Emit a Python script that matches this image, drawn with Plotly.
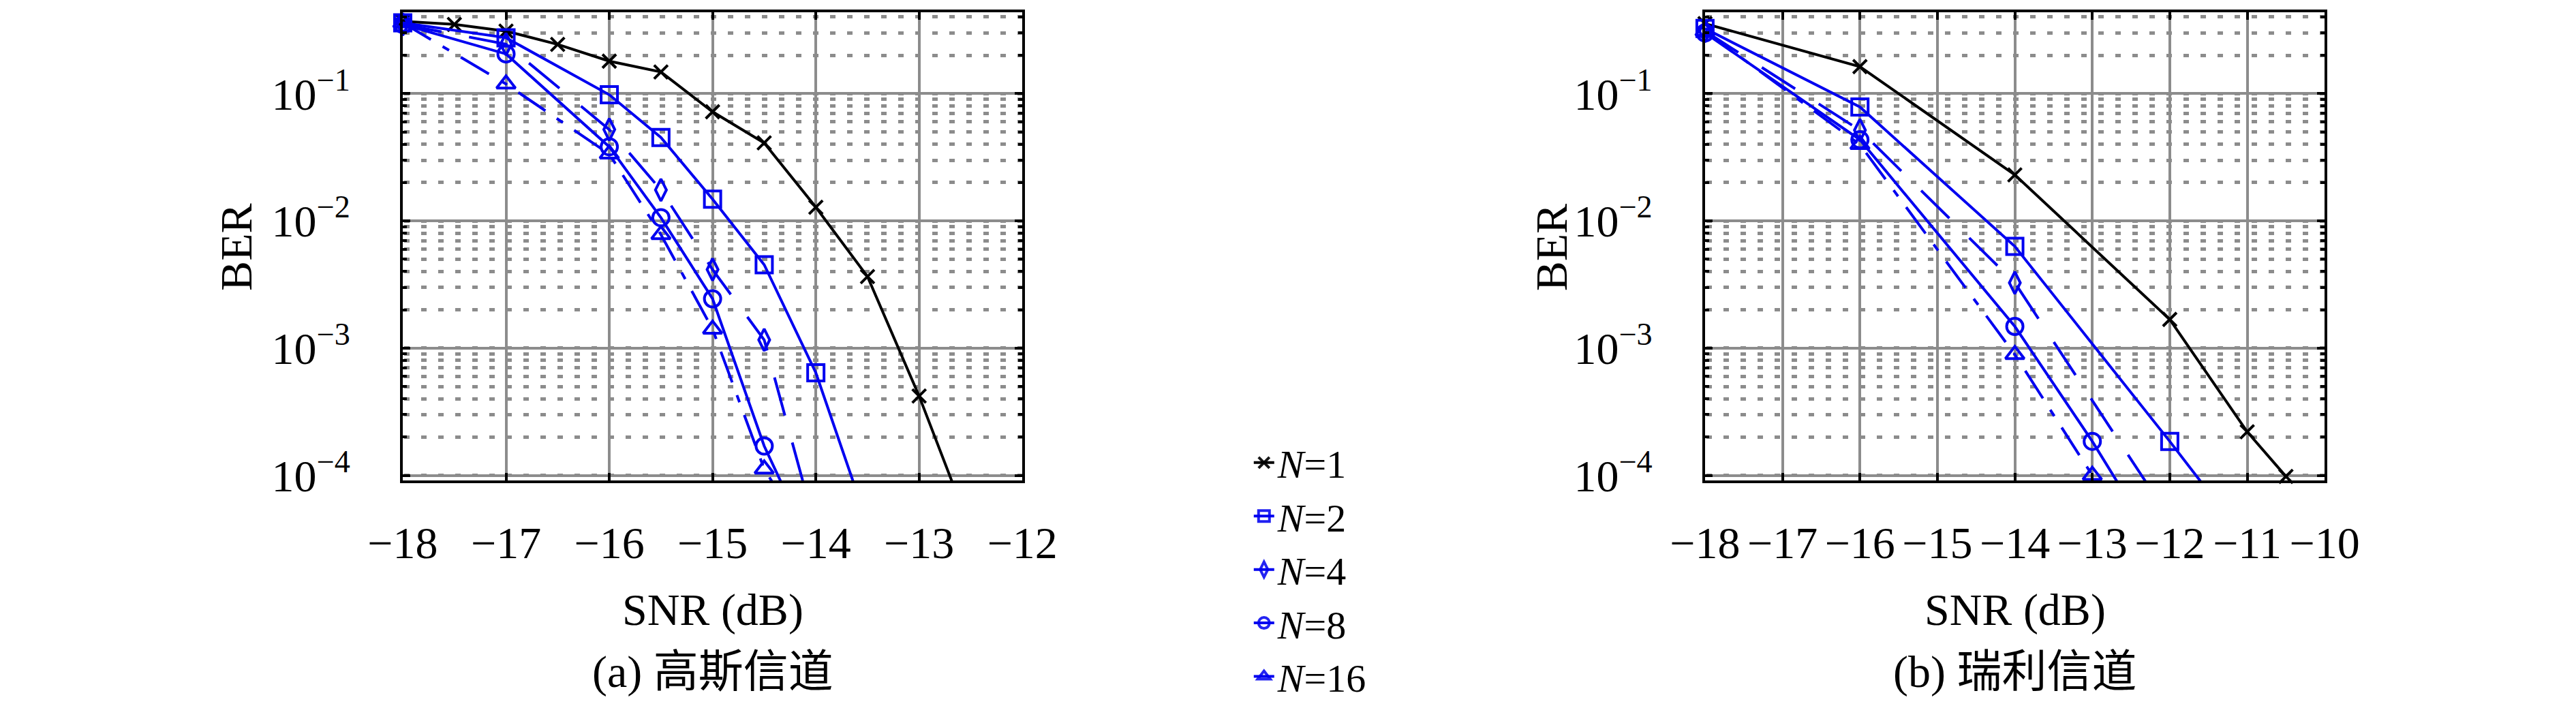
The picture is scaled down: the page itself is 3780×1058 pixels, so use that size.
"""BER vs SNR, Gaussian (a) and Rayleigh (b) channels."""
import plotly.graph_objects as go

# ── (a) Gaussian channel ─────────────────────────────────────────────
SNR_G_N1 = [-18, -17.5, -17, -16.5, -16, -15.5, -15, -14.5, -14, -13.5, -13, -12.5]
BER_G_N1 = [0.37, 0.35, 0.31, 0.244, 0.18, 0.148, 0.072, 0.041, 0.0128, 0.00365, 4.2e-4, 3.7e-5]
SNR_G_N2 = [-18, -17, -16, -15.5, -15, -14.5, -14, -13.5]
BER_G_N2 = [0.36, 0.275, 0.098, 0.0452, 0.0148, 0.00452, 6.4e-4, 4.2e-5]
SNR_G_N4 = [-18, -17, -16, -15.5, -15, -14.5, -14]
BER_G_N4 = [0.35, 0.245, 0.0522, 0.0175, 0.00414, 0.00116, 3.8e-5]
SNR_G_N8 = [-18, -17, -16, -15.5, -15, -14.5, -14]
BER_G_N8 = [0.35, 0.205, 0.0382, 0.0106, 0.00244, 1.7e-4, 2.3e-5]
SNR_G_N16 = [-18, -17, -16, -15.5, -15, -14.5, -14]
BER_G_N16 = [0.36, 0.119, 0.0335, 0.0078, 0.00141, 1.12e-4, 2.5e-5]

# ── (b) Rayleigh channel ─────────────────────────────────────────────
SNR_R_N1 = [-18, -16, -14, -12, -11, -10.5]
BER_R_N1 = [0.355, 0.163, 0.023, 1.68e-3, 2.2e-4, 9.8e-5]
SNR_R_N2 = [-18, -16, -14, -12, -11]
BER_R_N2 = [0.325, 0.0785, 0.0063, 1.85e-4, 3.0e-5]
SNR_R_N4 = [-18, -16, -14, -12]
BER_R_N4 = [0.31, 0.0516, 0.00326, 4.6e-5]
SNR_R_N8 = [-18, -16, -14, -13, -12]
BER_R_N8 = [0.30, 0.0434, 0.00148, 1.85e-4, 1.9e-5]
SNR_R_N16 = [-18, -16, -14, -13]
BER_R_N16 = [0.31, 0.0398, 8.9e-4, 1.0e-4]

LABELS = ["<i>N</i>=1", "<i>N</i>=2", "<i>N</i>=4", "<i>N</i>=8", "<i>N</i>=16"]
X_TICKS_G = [-18, -17, -16, -15, -14, -13, -12]
X_TICKS_R = [-18, -17, -16, -15, -14, -13, -12, -11, -10]
Y_TICKS = [1e-4, 1e-3, 1e-2, 1e-1]
Y_TICKTEXT = ["10<sup>−4</sup>", "10<sup>−3</sup>", "10<sup>−2</sup>", "10<sup>−1</sup>"]

# ── style ────────────────────────────────────────────────────────────
W, H = 3780, 1058
FONT = "'Liberation Serif', 'Noto Sans CJK SC', serif"
BLUE = "#0000f0"
GRID = "#8c8c8c"
MINOR_DASH = "0px,2px,8px,15px"
Y_RANGE = [-4.042, -0.359]
STYLES = [
    dict(color="black", symbol="x-thin-open", size=20, dash="solid"),
    dict(color=BLUE, symbol="square-open", size=24, dash="solid"),
    dict(color=BLUE, symbol="diamond-tall-open", size=23, dash="58px,41px"),
    dict(color=BLUE, symbol="circle-open", size=24, dash="solid"),
    dict(color=BLUE, symbol="triangle-up-open", size=24, dash="48px,20px,11px,20px"),
]


def _trace(x, y, st, name, xa, ya, legend):
    # hide markers of points that fall below the visible range (line still heads there)
    vis = [1 if v >= 10 ** Y_RANGE[0] else 0 for v in y]
    return go.Scatter(
        x=x, y=y, name=name, mode="lines+markers",
        xaxis=xa, yaxis=ya, showlegend=legend, cliponaxis=False,
        line=dict(color=st["color"], width=4, dash=st["dash"]),
        marker=dict(symbol=st["symbol"], size=st["size"], color=st["color"],
                    opacity=vis, line=dict(color=st["color"], width=4)),
    )


def _minus(v):
    return f"−{abs(v)}" if v < 0 else str(v)


def _xaxis(domain, rng, anchor, ticks):
    return dict(
        domain=domain, range=rng, anchor=anchor,
        tickvals=ticks, ticktext=[_minus(t) for t in ticks],
        showgrid=True, gridcolor=GRID, gridwidth=3.5, zeroline=False,
        showline=True, linecolor="black", linewidth=4, mirror="ticks",
        ticks="inside", ticklen=11, tickwidth=4, tickcolor="black",
        ticklabelstandoff=30, tickfont=dict(size=66, family=FONT, color="black"),
    )


def _yaxis(domain, anchor):
    return dict(
        domain=domain, type="log", range=Y_RANGE, anchor=anchor,
        tickvals=Y_TICKS, ticktext=Y_TICKTEXT,
        showgrid=True, gridcolor=GRID, gridwidth=3.5, zeroline=False,
        showline=True, linecolor="black", linewidth=4, mirror="ticks",
        ticks="inside", ticklen=11, tickwidth=4, tickcolor="black",
        ticklabelstandoff=60, tickfont=dict(size=66, family=FONT, color="black"),
        minor=dict(dtick="D1", showgrid=True, gridcolor=GRID, gridwidth=4.5,
                   griddash=MINOR_DASH, ticks="inside", ticklen=6,
                   tickwidth=4, tickcolor="black"),
    )


fig = go.Figure()

gauss = [(SNR_G_N1, BER_G_N1), (SNR_G_N2, BER_G_N2), (SNR_G_N4, BER_G_N4),
         (SNR_G_N8, BER_G_N8), (SNR_G_N16, BER_G_N16)]
rayleigh = [(SNR_R_N1, BER_R_N1), (SNR_R_N2, BER_R_N2), (SNR_R_N4, BER_R_N4),
            (SNR_R_N8, BER_R_N8), (SNR_R_N16, BER_R_N16)]

for (x, y), st, name in zip(gauss, STYLES, LABELS):
    fig.add_trace(_trace(x, y, st, name, "x", "y", True))
for (x, y), st, name in zip(rayleigh, STYLES, LABELS):
    fig.add_trace(_trace(x, y, st, name, "x2", "y2", False))

Y_DOM = [(H - 717) / H, (H - 10) / H]
LEFT_DOM = [546 / W, 1481 / W]
RIGHT_DOM = [2511 / W, 3446 / W]


def _ann(text, x, y, size=66, angle=0):
    return dict(text=text, x=x, y=y, xref="paper", yref="paper",
                xanchor="center", yanchor="middle", showarrow=False,
                textangle=angle, font=dict(size=size, family=FONT, color="black"))


annotations = [
    _ann("BER", 295 / W, 1 - 365 / H, angle=-90),
    _ann("BER", 2280 / W, 1 - 365 / H, angle=-90),
    _ann("SNR (dB)", sum(LEFT_DOM) / 2, 1 - 912 / H),
    _ann("SNR (dB)", sum(RIGHT_DOM) / 2, 1 - 912 / H),
    _ann("(a) 高斯信道", sum(LEFT_DOM) / 2, 1 - 1006 / H),
    _ann("(b) 瑞利信道", sum(RIGHT_DOM) / 2, 1 - 1006 / H),
]

fig.update_layout(
    width=W, height=H,
    margin=dict(l=0, r=0, t=0, b=0),
    paper_bgcolor="white", plot_bgcolor="white",
    font=dict(family=FONT, size=66, color="black"),
    xaxis=_xaxis(LEFT_DOM, [-18, -12], "y", X_TICKS_G),
    yaxis=_yaxis(Y_DOM, "x"),
    xaxis2=_xaxis(RIGHT_DOM, [-18, -10], "y2", X_TICKS_R),
    yaxis2=_yaxis(Y_DOM, "x2"),
    annotations=annotations,
    legend=dict(x=1825 / W, xanchor="left", y=1 - 851 / H, yanchor="middle",
                font=dict(size=58, family=FONT, color="black"),
                bgcolor="rgba(0,0,0,0)", itemsizing="trace"),
)

fig.write_html("out.html")
